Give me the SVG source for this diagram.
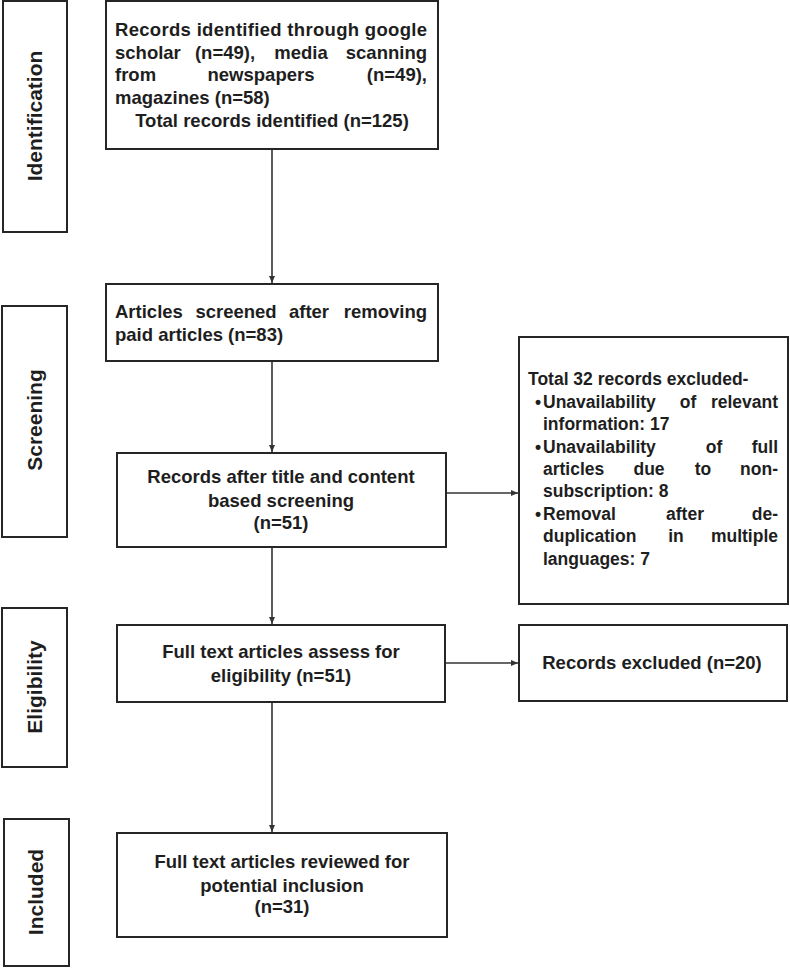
<svg xmlns="http://www.w3.org/2000/svg" width="790" height="969" viewBox="0 0 790 969">
<style>
.box{fill:#fff;stroke:#262626;stroke-width:2}
.t{font-family:"Liberation Sans",Arial,sans-serif;font-weight:bold;font-size:18.5px;fill:#1e1e1e}
.s{font-size:17.5px}
.ph{font-family:"Liberation Sans",Arial,sans-serif;font-weight:bold;font-size:21px;fill:#1e1e1e;text-anchor:middle}
.c{text-anchor:middle}
.e{text-anchor:end}
.ln{stroke:#333;stroke-width:1.6;fill:none;marker-end:url(#ah)}
</style>
<defs>
<marker id="ah" markerUnits="userSpaceOnUse" markerWidth="7" markerHeight="6" refX="7" refY="3" orient="auto">
<path d="M0,0 L7,3 L0,6 z" fill="#333"/>
</marker>
</defs>
<rect width="790" height="969" fill="#fff"/>

<g id="phase-identification">
<rect class="box" x="3" y="1" width="64" height="231"/>
<text class="ph" transform="translate(42,116) rotate(-90)">Identification</text>
</g>
<g id="phase-screening">
<rect class="box" x="2" y="306" width="65" height="231"/>
<text class="ph" transform="translate(42,420) rotate(-90)">Screening</text>
</g>
<g id="phase-eligibility">
<rect class="box" x="2" y="608" width="65" height="159"/>
<text class="ph" transform="translate(42,687) rotate(-90)">Eligibility</text>
</g>
<g id="phase-included">
<rect class="box" x="4" y="819" width="65" height="147"/>
<text class="ph" transform="translate(43,892) rotate(-90)">Included</text>
</g>

<g id="records-identified">
<rect class="box" x="106" y="1" width="332" height="148"/>
<text class="t" x="115" y="36" textLength="312" lengthAdjust="spacing">Records identified through google</text>
<text class="t" x="115" y="59">scholar</text>
<text class="t c" x="225" y="59">(n=49),</text>
<text class="t c" x="301" y="59">media</text>
<text class="t e" x="427" y="59">scanning</text>
<text class="t" x="115" y="81">from</text>
<text class="t c" x="261" y="81">newspapers</text>
<text class="t e" x="427" y="81">(n=49),</text>
<text class="t" x="115" y="104">magazines (n=58)</text>
<text class="t c" x="272" y="127">Total records identified (n=125)</text>
</g>

<g id="articles-screened">
<rect class="box" x="106" y="284" width="332" height="77"/>
<text class="t" x="115" y="318">Articles</text>
<text class="t c" x="236" y="318">screened</text>
<text class="t c" x="309" y="318">after</text>
<text class="t e" x="427" y="318">removing</text>
<text class="t" x="115" y="341">paid articles (n=83)</text>
</g>

<g id="records-after-screening">
<rect class="box" x="117" y="453" width="329" height="94"/>
<text class="t c" x="281" y="483">Records after title and content</text>
<text class="t c" x="281" y="507">based screening</text>
<text class="t c" x="281" y="529">(n=51)</text>
</g>

<g id="excluded-32">
<rect class="box" x="519" y="337" width="269" height="267"/>
<text class="t s" x="528" y="385">Total 32 records excluded-</text>
<text class="t s c" x="538" y="408">•</text>
<text class="t s" x="543" y="408">Unavailability</text>
<text class="t s c" x="688" y="408">of</text>
<text class="t s e" x="778" y="408">relevant</text>
<text class="t s" x="543" y="430">information: 17</text>
<text class="t s c" x="538" y="453">•</text>
<text class="t s" x="543" y="453">Unavailability</text>
<text class="t s c" x="714" y="453">of</text>
<text class="t s e" x="778" y="453">full</text>
<text class="t s" x="543" y="475">articles</text>
<text class="t s c" x="649" y="475">due</text>
<text class="t s c" x="703" y="475">to</text>
<text class="t s e" x="778" y="475">non-</text>
<text class="t s" x="543" y="497">subscription: 8</text>
<text class="t s c" x="538" y="520">•</text>
<text class="t s" x="543" y="520">Removal</text>
<text class="t s c" x="685" y="520">after</text>
<text class="t s e" x="778" y="520">de-</text>
<text class="t s" x="543" y="542">duplication</text>
<text class="t s c" x="676" y="542">in</text>
<text class="t s e" x="778" y="542">multiple</text>
<text class="t s" x="543" y="565">languages: 7</text>
</g>

<g id="full-text-assess">
<rect class="box" x="117" y="625" width="328" height="77"/>
<text class="t c" x="281" y="658">Full text articles assess for</text>
<text class="t c" x="281" y="682">eligibility (n=51)</text>
</g>

<g id="records-excluded-20">
<rect class="box" x="519" y="625" width="268" height="76"/>
<text class="t c" x="652" y="669">Records excluded (n=20)</text>
</g>

<g id="full-text-reviewed">
<rect class="box" x="117" y="833" width="330" height="104"/>
<text class="t c" x="282" y="868">Full text articles reviewed for</text>
<text class="t c" x="282" y="892">potential inclusion</text>
<text class="t c" x="282" y="913">(n=31)</text>
</g>

<g id="connectors">
<line class="ln" x1="272" y1="150" x2="272" y2="283"/>
<line class="ln" x1="272" y1="362" x2="272" y2="452"/>
<line class="ln" x1="447" y1="493" x2="518" y2="493"/>
<line class="ln" x1="272" y1="548" x2="272" y2="624"/>
<line class="ln" x1="446" y1="663" x2="518" y2="663"/>
<line class="ln" x1="272" y1="703" x2="272" y2="832"/>
</g>
</svg>
